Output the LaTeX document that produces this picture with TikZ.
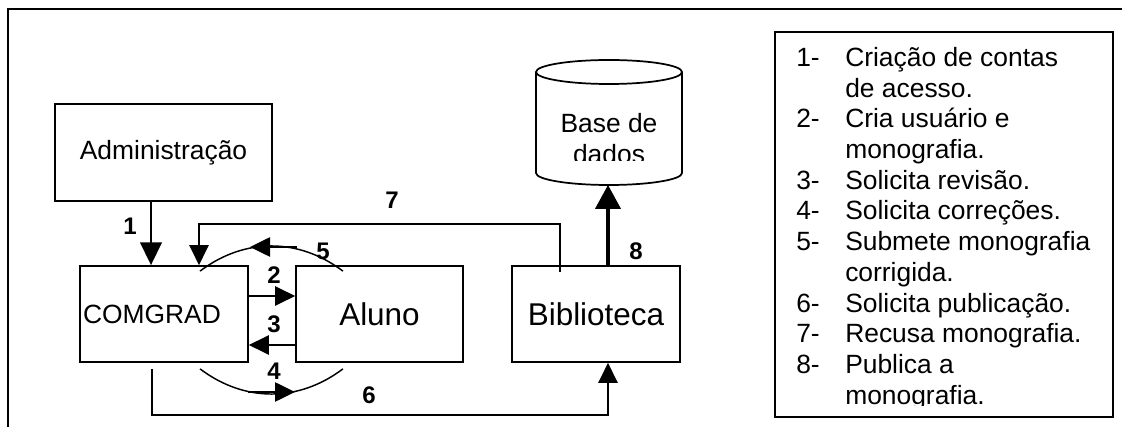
\documentclass[tikz,border=0pt]{standalone}
\usepackage{fontspec}
\setmainfont{Liberation Sans}
\usetikzlibrary{arrows.meta,calc}
\begin{document}
\begin{tikzpicture}[x=0.75pt,y=-0.75pt,
  box/.style={draw,line width=1.3pt,rectangle,inner sep=0pt},
  conn/.style={line width=1.1pt,-{Triangle[length=15pt,width=14.5pt]}},
  plain/.style={line width=1.1pt},
  bigarrow/.style={line width=2pt,-{Triangle[length=17pt,width=16pt]}},
  hugearrow/.style={line width=2.5pt,-{Triangle[length=18pt,width=19pt]}},
  lbl/.style={font=\fontsize{18}{20}\selectfont\bfseries,inner sep=0pt},
  txt/.style={font=\fontsize{19.8}{22.9}\selectfont},
  bigtxt/.style={font=\fontsize{23.6}{27}\selectfont},
  leg/.style={font=\fontsize{19.8}{22.9}\selectfont,inner sep=0pt,anchor=base west}]
\useasboundingbox (0,0) rectangle (1122,427);
% outer frame
\draw[line width=1.5pt] (8,427) -- (8,9) -- (1122,9);

% boxes
\node[box,txt,minimum width=162.75pt,minimum height=72.75pt] (adm) at (163.5,152.5) {Administração};
\node[box,txt,minimum width=126pt,minimum height=72pt,text width=121.5pt,align=left,inner xsep=2.25pt] (com) at (164,314) {COMGRAD};
\node[box,bigtxt,minimum width=125.25pt,minimum height=72pt] (alu) at (379.5,314) {Aluno};
\node[box,bigtxt,minimum width=126pt,minimum height=72pt] (bib) at (596,314) {Biblioteca};

% database cylinder
\draw[line width=1.3pt] (536,72) -- (536,173) arc[start angle=180,end angle=360,x radius=54.75pt,y radius=9pt] -- (682,72);
\draw[line width=1.3pt] (609,72) ellipse[x radius=54.75pt,y radius=9pt];
\begin{scope}
\clip (536,60) rectangle (682,160.5);
\node[txt,inner sep=0pt,anchor=base] (db1) at (609,133) {Base de};
\node[txt,inner sep=0pt,anchor=base] (db2) at (609,163.5) {dados};
\end{scope}
\coordinate (dbbot) at (608,185);

% legend
\node[box,minimum width=253.5pt,minimum height=288.75pt] (legend) at (944,224.5) {};
\foreach \i/\y/\num in {1/66.5/1-,3/127.9/2-,5/189.3/3-,6/220/4-,7/250.7/5-,9/312.1/6-,10/342.8/7-,11/373.5/8-}
  \node[leg] (legn\i) at (796,\y) {\num};
\begin{scope}
\clip (775,32) rectangle (1113,405.5);
\foreach \i/\y/\t in {1/66.5/Criação de contas,2/97.2/de acesso.,3/127.9/Cria usuário e,4/158.6/monografia.,5/189.3/Solicita revisão.,6/220/Solicita correções.,7/250.7/Submete monografia,8/281.4/corrigida.,9/312.1/Solicita publicação.,10/342.8/Recusa monografia.,11/373.5/Publica a,12/404.2/monografia.}
  \node[leg] (legt\i) at (845,\y) {\t};
\end{scope}

% connectors
\coordinate (a1) at ([xshift=-9.75pt]com.north);
\draw[bigarrow] (adm.south -| a1) -- (a1);

\draw[conn] ([yshift=13.5pt]com.east) -- ([yshift=13.5pt]alu.west);
\draw[conn] ([yshift=-23.25pt]alu.west) -- ([yshift=-23.25pt]com.east);

\coordinate (s5) at ([xshift=-27.4pt,yshift=-4.5pt]alu.north);
\coordinate (e5) at ([xshift=27pt,yshift=-4.5pt]com.north);
\draw[plain] (s5) to[bend right=37] (e5);
\coordinate (h5a) at (297,247);
\coordinate (h5b) at (250,247);
\draw[conn] (h5a) -- (h5b);

\coordinate (s4) at ([xshift=27pt,yshift=-4.5pt]com.south);
\coordinate (e4) at ([xshift=-27.4pt,yshift=-4.5pt]alu.south);
\draw[plain] (s4) to[bend right=37] (e4);
\coordinate (h4a) at (248,392);
\coordinate (h4b) at (295,392);
\draw[conn] (h4a) -- (h4b);

\coordinate (s6) at ([xshift=-9pt,yshift=-4.5pt]com.south);
\coordinate (c6) at (608,415);
\draw[conn] (s6) |- (c6) -- (bib.south -| c6);

\coordinate (s7) at ([xshift=-27pt,yshift=-5.25pt]bib.north);
\coordinate (c7) at (199,224);
\draw[conn] (s7) |- (c7) -- (c7 |- com.north);

\draw[hugearrow] (bib.north -| dbbot) -- (dbbot);

% labels
\node[lbl] (l1) at (130,226) {1};
\node[lbl] (l2) at (274,275) {2};
\node[lbl] (l3) at (274,324) {3};
\node[lbl] (l4) at (274,371) {4};
\node[lbl] (l5) at (323,251) {5};
\node[lbl] (l6) at (369,395) {6};
\node[lbl] (l7) at (392,200) {7};
\node[lbl] (l8) at (636,251) {8};
\end{tikzpicture}
\end{document}
